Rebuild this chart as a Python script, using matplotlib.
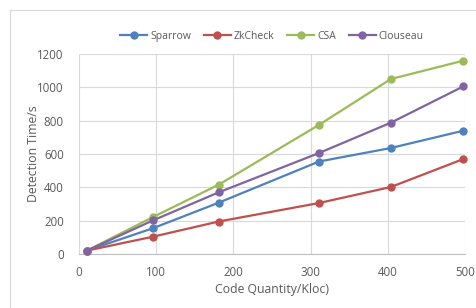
import matplotlib
matplotlib.use("Agg")
import matplotlib.pyplot as plt
from matplotlib.lines import Line2D

# ── Data ───────────────────────────────────────────────────────────────────
code_kloc = [10, 96, 181, 311, 404, 498]
sparrow = [20, 155, 308, 555, 636, 740]
zkcheck = [20, 104, 195, 306, 402, 570]
csa = [20, 222, 416, 775, 1050, 1160]
clouseau = [20, 202, 370, 606, 788, 1006]

x_ticks = [0, 100, 200, 300, 400, 500]
y_ticks = [0, 200, 400, 600, 800, 1000, 1200]

SERIES = [
    ("Sparrow", sparrow, "#4F81BD"),
    ("ZkCheck", zkcheck, "#C0504D"),
    ("CSA", csa, "#9BBB59"),
    ("Clouseau", clouseau, "#8064A2"),
]

TEXT = "#595959"
GRID = "#D9D9D9"

plt.rcParams.update({
    "font.family": ["Open Sans", "DejaVu Sans"],
    "font.size": 7,
})

W, H = 477, 308
fig = plt.figure(figsize=(W / 100, H / 100), dpi=100)
fig.patch.set_facecolor("white")

# outer chart frame (only top/left visible in the crop)
fig.add_artist(Line2D([10 / W, 1], [1 - 10 / H, 1 - 10 / H], color=GRID, lw=0.8))
fig.add_artist(Line2D([10 / W, 10 / W], [0, 1 - 10 / H], color=GRID, lw=0.8))

ax = fig.add_axes([79 / W, 1 - 254 / H, (465 - 79) / W, (254 - 54) / H])

for name, vals, color in SERIES:
    ax.plot(code_kloc, vals, color=color, lw=1.6, marker="o", ms=5,
            label=name, clip_on=False, zorder=3)

ax.set_xlim(0, 500)
ax.set_ylim(0, 1200)
ax.set_xticks(x_ticks)
ax.set_yticks(y_ticks)
ax.grid(True, color=GRID, lw=0.8)
ax.set_axisbelow(True)
for side in ["top", "right", "left"]:
    ax.spines[side].set_visible(False)
ax.spines["bottom"].set_color("#BFBFBF")
ax.spines["bottom"].set_linewidth(0.8)
ax.tick_params(length=0, colors=TEXT, labelsize=8.3)
ax.tick_params(axis="x", pad=9)
ax.tick_params(axis="y", pad=11)

ax.set_xlabel("Code Quantity/Kloc)", color=TEXT, fontsize=8.8, va="center")
ax.set_ylabel("Detection Time/s", color=TEXT, fontsize=8.8, va="center")
ax.xaxis.set_label_coords(0.5, -36 / 200)
ax.yaxis.set_label_coords(-45 / 386, 0.5)

ax.legend(loc="lower center", bbox_to_anchor=(0.5, 1.04), ncol=4, frameon=False,
          fontsize=7.5, labelcolor=TEXT, handlelength=2.6, handletextpad=0.3,
          columnspacing=1.2, borderaxespad=0)

fig.savefig("out.png", dpi=100)
